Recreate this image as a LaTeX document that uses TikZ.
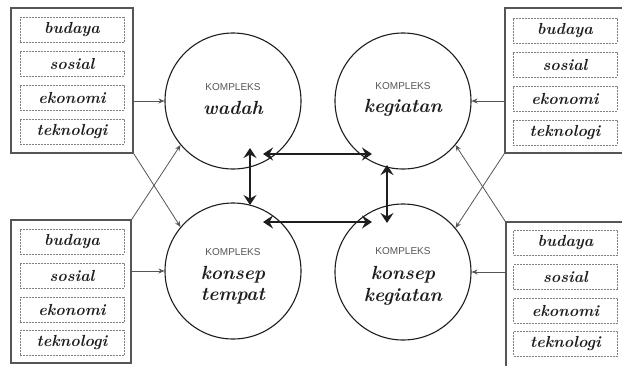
\documentclass[tikz,border=0pt]{standalone}
\usepackage{fontspec}
\newfontfamily\kfont{Liberation Sans}
\usetikzlibrary{arrows.meta}
\definecolor{boxgray}{HTML}{555555}
\definecolor{dashgray}{HTML}{808080}
\definecolor{ink}{HTML}{1E1E1E}
\tikzset{
  outerbox/.style={draw=boxgray, line width=1.8pt, minimum width=#1, inner sep=0pt},
  wordbox/.style={draw=dashgray, line width=0.7pt, dash pattern=on 2pt off 1pt,
     minimum width=104pt, minimum height=25pt, inner sep=0pt,
     font=\fontsize{16}{16}\selectfont\bfseries\itshape, text=ink},
  komplex/.style={circle, draw=ink, line width=1.1pt, minimum size=136pt, inner sep=0pt},
  ktitle/.style={font=\kfont\fontsize{10}{10}\selectfont, text=boxgray, inner sep=0pt},
  kword/.style={font=\fontsize{19}{19}\selectfont\bfseries\itshape, text=ink, inner sep=0pt},
  thinarrow/.style={draw=boxgray, line width=0.8pt, -{Stealth[length=6pt,width=5pt]}},
  bigarrow/.style={draw=ink, line width=2.8pt, {Stealth[length=10pt,width=13pt,inset=3.5pt]}-{Stealth[length=10pt,width=13pt,inset=3.5pt]}}
}
\begin{document}
\begin{tikzpicture}[x=1pt,y=-1pt]
\useasboundingbox (0,0) rectangle (622,365);
\clip (0,0) rectangle (622,365);
\fill[white] (0,0) rectangle (622,365);

% circles
\node[komplex] (wadah) at (233,101) {};
\node[komplex] (keg) at (403,101) {};
\node[komplex] (tempat) at (233,271) {};
\node[komplex] (kkeg) at (403,272) {};

\node[ktitle] (t1) at (233,87) {KOMPLEKS};
\node[kword] (w1) at (233,108) {wadah};
\node[ktitle] (t2) at (403,86) {KOMPLEKS};
\node[kword] (w2) at (403,108) {kegiatan};
\node[ktitle] (t3) at (233,252) {KOMPLEKS};
\node[kword] (w3) at (233,275) {konsep};
\node[kword] (w3b) at (233,296) {tempat};
\node[ktitle] (t4) at (403,251) {KOMPLEKS};
\node[kword] (w4) at (403,275) {konsep};
\node[kword] (w4b) at (403,297) {kegiatan};

% outer boxes
\node[outerbox=122pt, minimum height=145pt] (TL) at (72,80.5) {};
\node[outerbox=120pt, minimum height=143pt] (BL) at (71,291.5) {};
\node[outerbox=122pt, minimum height=145pt] (TR) at (566,80.5) {};
\node[outerbox=122pt, minimum height=145pt] (BR) at (567,294.5) {};

% word boxes
\node[wordbox] (tl1) at (72,30) {budaya};
\node[wordbox] (tl2) at (72,63.5) {sosial};
\node[wordbox] (tl3) at (72,97.5) {ekonomi};
\node[wordbox] (tl4) at (72,131.5) {teknologi};
\node[wordbox] (bl1) at (72,241.5) {budaya};
\node[wordbox] (bl2) at (72,275.5) {sosial};
\node[wordbox] (bl3) at (72,310) {ekonomi};
\node[wordbox] (bl4) at (72,343) {teknologi};
\node[wordbox] (tr1) at (565,30.5) {budaya};
\node[wordbox] (tr2) at (565,64.5) {sosial};
\node[wordbox] (tr3) at (565,98.5) {ekonomi};
\node[wordbox] (tr4) at (565,132.5) {teknologi};
\node[wordbox] (br1) at (565.5,242.5) {budaya};
\node[wordbox] (br2) at (565.5,277) {sosial};
\node[wordbox] (br3) at (565.5,310.5) {ekonomi};
\node[wordbox] (br4) at (565.5,343.5) {teknologi};

% thin connectors
\draw[thinarrow] (TL.east |- wadah.west) -- (wadah.west);
\draw[thinarrow] (BL.east |- tempat.west) -- (tempat.west);
\draw[thinarrow] (TR.west |- keg.east) -- (keg.east);
\draw[thinarrow] (BR.west |- kkeg.east) -- (kkeg.east);
\draw[thinarrow] (TL.south east) -- (tempat.140);
\draw[thinarrow] (BL.north east) -- (wadah.220);
\draw[thinarrow] (TR.south west) -- (kkeg.40);
\draw[thinarrow] (BR.north west) -- (keg.-40);

% thick arrows
\coordinate (va1) at (250,148);
\coordinate (va2) at (250,205);
\coordinate (vb1) at (387,165);
\coordinate (vb2) at (387,223);
\coordinate (ha1) at (263,154);
\coordinate (ha2) at (372,154);
\coordinate (hb1) at (263,222);
\coordinate (hb2) at (372,222);
\draw[bigarrow] (va1) -- (va2);
\draw[bigarrow] (vb1) -- (vb2);
\draw[bigarrow] (ha1) -- (ha2);
\draw[bigarrow] (hb1) -- (hb2);
\end{tikzpicture}
\end{document}
